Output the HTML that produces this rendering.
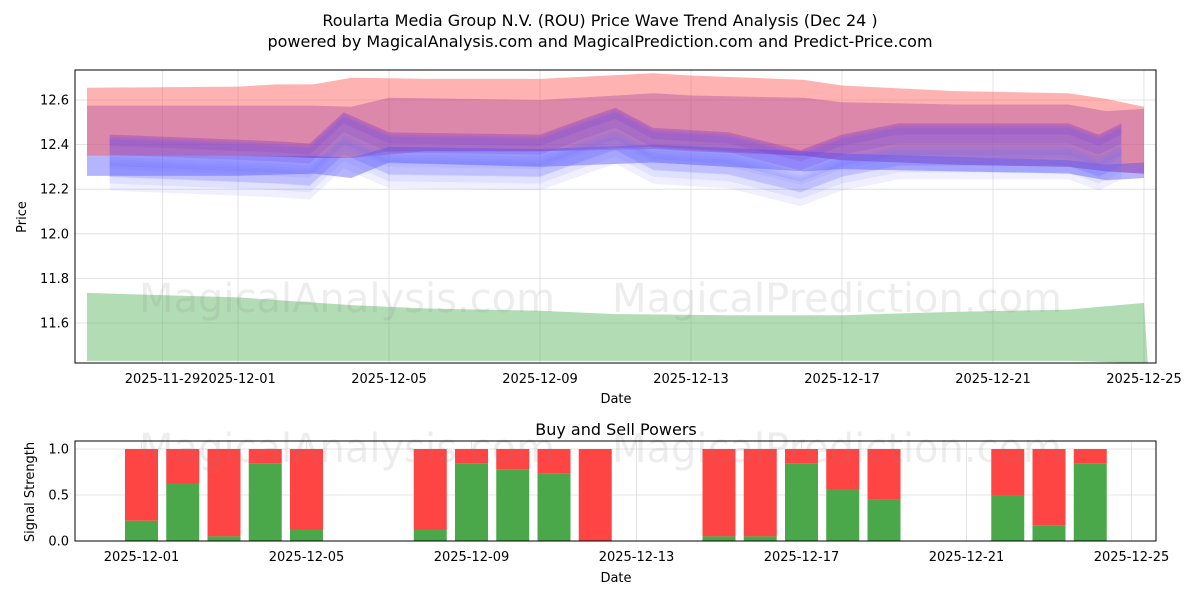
<!DOCTYPE html>
<html><head><meta charset="utf-8"><style>
body{margin:0;background:#fff;font-family:"Liberation Sans","DejaVu Sans",sans-serif}
svg text{font-family:"DejaVu Sans","Liberation Sans",sans-serif}
</style></head><body>
<svg id="c" width="1200" height="600" xmlns="http://www.w3.org/2000/svg">
<rect width="1200" height="600" fill="#fff"/>
<text x="600" y="26" text-anchor="middle" font-size="16">Roularta Media Group N.V. (ROU) Price Wave Trend Analysis (Dec 24 )</text>
<text x="600" y="47" text-anchor="middle" font-size="16">powered by MagicalAnalysis.com and MagicalPrediction.com and Predict-Price.com</text>
<g id="topg"></g><g id="botg"></g>
</svg>
<script>
// ---- data ----
const redDays=[-4,0,1,2,3,5,8,11,12,15,16,19,22,23,24];
const redTop=[12.655,12.66,12.67,12.67,12.70,12.695,12.695,12.72,12.71,12.69,12.665,12.64,12.63,12.605,12.57];
const redBot=[12.35,12.35,12.35,12.34,12.34,12.37,12.37,12.38,12.37,12.35,12.33,12.31,12.30,12.28,12.27];
const magDays=[-4,0,2,3,4,8,11,12,15,16,19,22,23,24];
const magTop=[12.575,12.575,12.575,12.57,12.61,12.60,12.63,12.62,12.61,12.59,12.58,12.58,12.55,12.56];
const magBot=[12.35,12.35,12.34,12.34,12.37,12.37,12.39,12.38,12.35,12.33,12.31,12.30,12.28,12.27];
const blueDays=[-4,0,2,3,4,8,11,15,16,22,23,24];
const blueTop=[12.35,12.35,12.35,12.34,12.39,12.38,12.40,12.37,12.36,12.33,12.31,12.32];
const blueBot=[12.26,12.26,12.27,12.25,12.32,12.30,12.32,12.28,12.29,12.27,12.24,12.25];
const waveDays=[-3.4,1,1.9,2.8,4,8,9.3,10,11,13,14.9,16,17.5,22,22.8,23.4];
const waveMid=[12.40,12.37,12.36,12.50,12.41,12.40,12.48,12.52,12.43,12.41,12.33,12.40,12.45,12.45,12.40,12.45];
const waveWidths=[0.05,0.09,0.13,0.17];
const waveShift=[0.02,0.0,-0.03,-0.06];
const greenDays=[-4,0,3,5,8,10,13,16,19,22,24,24.1];
const greenTop=[11.735,11.715,11.68,11.665,11.655,11.64,11.635,11.635,11.65,11.66,11.69,11.42];
const greenBot=[11.43,11.43,11.43,11.43,11.43,11.43,11.43,11.43,11.43,11.43,11.42,11.42];
const yTicks=[11.6,11.8,12.0,12.2,12.4,12.6];
const xTickDays=[-2,0,4,8,12,16,20,24];
const xTickLabels=["2025-11-29","2025-12-01","2025-12-05","2025-12-09","2025-12-13","2025-12-17","2025-12-21","2025-12-25"];
const barDays=[0,1,2,3,4,7,8,9,10,11,14,15,16,17,18,21,22,23];
const buyVals=[0.22,0.62,0.05,0.84,0.12,0.12,0.84,0.78,0.73,0.0,0.05,0.05,0.84,0.56,0.45,0.5,0.17,0.84];
const botTickDays=[0,4,8,12,16,20,24];
const botTickLabels=["2025-12-01","2025-12-05","2025-12-09","2025-12-13","2025-12-17","2025-12-21","2025-12-25"];
const sTicks=[0,0.5,1.0];
// ---- scales ----
const NS="http://www.w3.org/2000/svg";
const P={l:75,r:1156,t:70,b:363};
const x=d=>238+d*37.75;
const y=v=>100+(12.6-v)*223;
const B={l:75,r:1156,t:441,b:541};
const bx=d=>141.5+d*41.25;
const sy=v=>541-v*92;
function el(tag,attrs,parent){const e=document.createElementNS(NS,tag);for(const k in attrs)e.setAttribute(k,attrs[k]);parent.appendChild(e);return e;}
const topG=document.getElementById('topg'),botG=document.getElementById('botg');
yTicks.forEach(v=>{const g=el('line',{x1:P.l,x2:P.r,y1:y(v),y2:y(v),stroke:'#ddd','stroke-width':0.8},topG);

const t=el('text',{x:P.l-6,y:y(v)+4.5,'text-anchor':'end','font-size':13},topG);t.textContent=v.toFixed(1);
});
xTickDays.forEach((d,i)=>{const g=el('line',{x1:x(d),x2:x(d),y1:P.t,y2:P.b,stroke:'#ddd','stroke-width':0.8},topG);

const t=el('text',{x:x(d),y:P.b+20,'text-anchor':'middle','font-size':13},topG);t.textContent=xTickLabels[i];
});
function band(days,hi,lo,fill,op,name){
 let pts=days.map((d,i)=>x(d)+','+y(hi[i]));
 for(let i=days.length-1;i>=0;i--)pts.push(x(days[i])+','+y(lo[i]));
 const p=el('polygon',{points:pts.join(' '),fill:fill,'fill-opacity':op},topG);
 }
band(redDays,redTop,redBot,'#ff5555',0.45,'red-band');
band(magDays,magTop,magBot,'#9a3a9a',0.35,'magenta-band');
band(blueDays,blueTop,blueBot,'#4d4dff',0.42,'blue-band');
waveWidths.forEach((w,k)=>{
 const hi=waveMid.map(m=>m+waveShift[k]+w*0.5), lo=waveMid.map(m=>m+waveShift[k]-w*0.5);
 band(waveDays,hi,lo,k<2?'#7a28c8':'#5a5aff',0.16,'wave-band');});
waveWidths.forEach((w,k)=>{
 const hi=waveMid.map(m=>m-0.04-w*0.3), lo=waveMid.map(m=>m-0.07-w*0.8);
 band(waveDays,hi,lo,'#6a6aff',0.11,'wave-lower-band');});
band(greenDays,greenTop,greenBot,'#4caf50',0.43,'green-band');
let wm=el('text',{x:347,y:312,'text-anchor':'middle','font-size':40,fill:'#888','fill-opacity':0.15},topG);wm.textContent='MagicalAnalysis.com';

wm=el('text',{x:837,y:312,'text-anchor':'middle','font-size':40,fill:'#888','fill-opacity':0.15},topG);wm.textContent='MagicalPrediction.com';

let fr=el('rect',{x:P.l,y:P.t,width:P.r-P.l,height:P.b-P.t,fill:'none',stroke:'#000','stroke-width':1},topG);

let t=el('text',{x:616,y:403,'text-anchor':'middle','font-size':13},topG);t.textContent='Date';

t=el('text',{x:26,y:217,'text-anchor':'middle','font-size':13,transform:'rotate(-90 26 217)'},topG);t.textContent='Price';

t=el('text',{x:616,y:435,'text-anchor':'middle','font-size':16},botG);t.textContent='Buy and Sell Powers';

sTicks.forEach(v=>{const g=el('line',{x1:B.l,x2:B.r,y1:sy(v),y2:sy(v),stroke:'#ddd','stroke-width':0.8},botG);

const tt=el('text',{x:B.l-6,y:sy(v)+4.5,'text-anchor':'end','font-size':13},botG);tt.textContent=v.toFixed(1);
});
botTickDays.forEach((d,i)=>{const g=el('line',{x1:bx(d),x2:bx(d),y1:B.t,y2:B.b,stroke:'#ddd','stroke-width':0.8},botG);

const tt=el('text',{x:bx(d),y:B.b+20,'text-anchor':'middle','font-size':13},botG);tt.textContent=botTickLabels[i];
});
barDays.forEach((s,i)=>{const cx=bx(s),w=33;
 const r=el('rect',{x:cx-w/2,y:sy(1),width:w,height:sy(buyVals[i])-sy(1),fill:'#ff4444'},botG);
 
 const g=el('rect',{x:cx-w/2,y:sy(buyVals[i]),width:w,height:sy(0)-sy(buyVals[i]),fill:'#4aa84a'},botG);
 });
wm=el('text',{x:347,y:462,'text-anchor':'middle','font-size':40,fill:'#888','fill-opacity':0.15},botG);wm.textContent='MagicalAnalysis.com';

wm=el('text',{x:837,y:462,'text-anchor':'middle','font-size':40,fill:'#888','fill-opacity':0.15},botG);wm.textContent='MagicalPrediction.com';

fr=el('rect',{x:B.l,y:B.t,width:B.r-B.l,height:B.b-B.t,fill:'none',stroke:'#000','stroke-width':1},botG);

t=el('text',{x:616,y:582,'text-anchor':'middle','font-size':13},botG);t.textContent='Date';

t=el('text',{x:34,y:492,'text-anchor':'middle','font-size':13,transform:'rotate(-90 34 492)'},botG);t.textContent='Signal Strength';

</script>
</body></html>
